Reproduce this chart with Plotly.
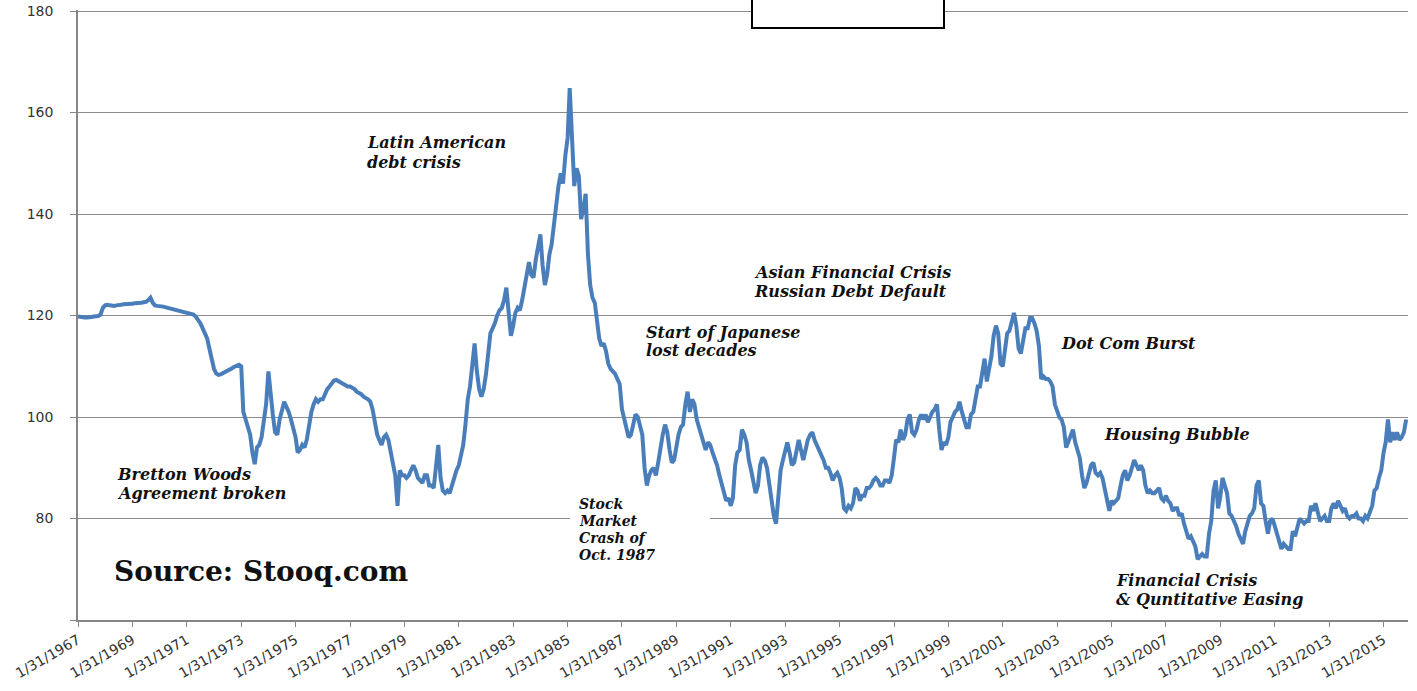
import calendar
import plotly.graph_objects as go

# ---- data: month-end values, Jan 1967 .. Nov 2015 ----
usd_1967_1976 = [
    119.8, 119.7, 119.7, 119.6, 119.6, 119.6, 119.7, 119.8, 119.8, 119.9, 120.2, 121.5,
    122.0, 122.1, 122.0, 121.9, 121.9, 122.0, 122.0, 122.1, 122.2, 122.2, 122.3, 122.3,
    122.3, 122.4, 122.4, 122.4, 122.5, 122.6, 122.7, 123.0, 123.5, 122.5, 122.0, 121.9,
    121.9, 121.8, 121.7, 121.6, 121.5, 121.3, 121.2, 121.0, 120.9, 120.8, 120.7, 120.6,
    120.6, 120.5, 120.4, 120.2, 119.8, 119.3, 118.5, 117.5, 116.5, 115.5, 113.5, 111.5,
    109.5, 108.6, 108.3, 108.4, 108.6, 108.8, 109.0, 109.3, 109.6, 109.9, 110.2, 110.3,
    110.0, 101.0, 99.5, 98.0, 96.5, 93.0, 90.7, 94.0, 94.5, 96.0, 99.0, 102.5,
    109.0, 104.0, 100.5, 97.0, 96.5, 99.5, 101.5, 103.0, 102.0, 101.0, 99.5, 98.0,
    96.0, 93.0, 93.5, 94.5, 94.0, 95.5, 98.5, 101.0, 102.5, 103.5, 103.0, 103.5,
    103.5, 104.5, 105.5, 106.0, 106.5, 107.2, 107.3, 107.0, 106.8, 106.5, 106.3, 106.0,
]
usd_1977_1986 = [
    106.0, 105.8, 105.5, 105.0, 104.8, 104.5, 104.0, 103.8, 103.5, 103.0, 101.5, 99.0,
    96.5, 95.5, 94.5, 96.0, 96.5, 95.5, 93.0, 90.0, 88.5, 82.5, 89.5, 88.5,
    88.5, 88.0, 88.5, 89.5, 90.5, 89.5, 88.0, 87.5, 87.0, 88.5, 88.5, 86.5,
    86.5, 86.0, 90.0, 94.5, 88.0, 85.5, 85.0, 85.5, 85.0, 86.5, 88.5, 89.5,
    90.5, 92.5, 94.5, 98.5, 103.5, 106.0, 110.0, 114.5, 109.0, 105.5, 104.0, 105.5,
    108.5, 112.0, 116.5, 117.5, 118.5, 120.0, 121.0, 121.5, 123.0, 125.5, 120.5, 116.0,
    118.0, 120.5, 121.5, 121.0, 123.0, 125.5, 128.0, 130.5, 128.0, 127.5, 131.0, 133.5,
    136.0, 130.0, 126.0, 128.0, 132.0, 134.0, 138.0, 141.0, 145.5, 148.0, 146.0, 151.5,
    155.0, 164.8, 153.0, 145.5, 149.0, 147.5, 139.0, 141.0, 144.0, 132.0, 126.0, 123.5,
    122.5, 119.0, 115.5, 114.0, 114.5, 113.0, 110.5, 109.5, 109.0, 108.5, 107.5, 106.5,
]
usd_1987_1996 = [
    101.5, 99.5, 98.0, 96.0, 96.5, 98.5, 100.5, 100.0, 98.0, 96.5, 90.0, 86.5,
    88.5, 89.5, 90.0, 88.5, 91.0, 94.0, 96.5, 98.5, 97.0, 93.5, 91.0, 91.5,
    94.5, 96.5, 98.0, 98.5, 102.5, 105.0, 101.0, 103.5, 102.5, 99.5, 98.0, 96.5,
    94.5, 93.5, 95.0, 94.5, 93.0, 92.0, 90.5, 88.5, 87.0, 85.0, 83.5, 84.0,
    82.5, 84.0, 90.5, 93.0, 93.5, 97.5, 96.5, 95.0, 91.5, 89.5, 87.0, 85.0,
    86.5, 90.5, 92.0, 91.5, 90.0, 87.0, 84.5, 80.5, 79.0, 84.5, 89.5, 91.5,
    93.0, 95.0, 93.0, 90.5, 91.0, 93.0, 95.5, 93.5, 91.5, 93.5, 95.5, 96.5,
    97.0, 95.5, 94.5, 93.5, 92.5, 91.5, 90.0, 90.0, 89.0, 87.5, 88.5, 89.0,
    88.0, 86.0, 82.0, 81.5, 82.5, 82.0, 83.0, 86.0, 85.5, 83.5, 84.5, 84.5,
    86.0, 86.0, 86.5, 87.5, 88.0, 87.5, 86.5, 86.5, 87.5, 87.5, 87.0, 88.5,
]
usd_1997_2006 = [
    92.0, 95.5, 95.0, 97.5, 95.5, 96.5, 99.5, 100.5, 97.0, 96.5, 97.5, 99.5,
    100.5, 99.5, 100.5, 99.0, 100.0, 101.0, 101.5, 102.5, 97.5, 93.5, 95.0, 94.5,
    96.0, 99.0, 100.0, 101.0, 101.5, 103.0, 101.0, 99.5, 98.0, 98.0, 100.5, 101.0,
    104.0, 106.0, 106.0, 108.5, 111.5, 107.0, 109.5, 112.0, 116.0, 118.0, 116.5, 110.5,
    110.0, 113.5, 116.5, 117.0, 119.0, 120.5, 118.0, 113.5, 112.5, 115.0, 117.5, 117.5,
    119.5, 119.5, 118.5, 117.0, 114.0, 107.5, 108.0, 107.5, 107.5, 107.0, 106.0, 102.5,
    101.0, 100.0, 99.5, 98.0, 94.0, 95.0, 96.0, 97.5, 95.0, 93.5, 92.0, 88.5,
    86.0, 87.0, 88.5, 90.5, 91.0, 89.0, 88.5, 89.0, 88.0, 85.5, 83.0, 81.5,
    83.5, 83.0, 83.5, 84.0, 86.5, 88.5, 89.5, 87.5, 88.5, 90.0, 91.5, 90.5,
    89.5, 90.5, 89.5, 86.5, 85.0, 85.5, 85.0, 85.0, 85.5, 86.0, 84.0, 83.5,
]
usd_2007_2015 = [
    84.5, 83.5, 83.0, 81.5, 82.0, 82.0, 80.5, 81.0, 79.0, 77.5, 76.0, 76.5,
    75.5, 74.5, 72.0, 72.5, 73.0, 72.5, 72.5, 77.0, 79.5, 85.5, 87.5, 82.0,
    84.5, 88.0, 86.5, 85.0, 81.0, 80.5, 79.5, 78.5, 77.0, 76.0, 75.0, 77.5,
    79.5, 80.5, 81.0, 82.0, 86.5, 87.5, 83.0, 82.5, 79.5, 77.0, 79.5, 80.0,
    78.5, 77.0, 76.0, 74.0, 75.0, 74.5, 74.0, 74.0, 77.5, 76.5, 78.5, 80.0,
    79.5, 79.0, 79.5, 79.5, 82.5, 81.5, 83.0, 81.5, 79.5, 80.0, 80.5, 79.5,
    79.5, 82.0, 83.0, 82.0, 83.5, 82.5, 81.5, 82.0, 80.5, 80.0, 80.5, 80.5,
    81.0, 80.0, 80.0, 79.5, 80.5, 80.0, 81.5, 82.5, 85.5, 86.0, 88.0, 89.5,
    93.0, 95.0, 99.5, 95.0, 97.0, 95.5, 97.0, 95.5, 96.0, 97.0, 99.5,
]

tick_years = list(range(1967, 2016, 2))
tick_dates = [f"{y}-01-31" for y in tick_years]
tick_labels = [f"1/31/{y}" for y in tick_years]
y_ticks = [60, 80, 100, 120, 140, 160, 180]
y_labels = ["", "80", "100", "120", "140", "160", "180"]

values = usd_1967_1976 + usd_1977_1986 + usd_1987_1996 + usd_1997_2006 + usd_2007_2015
dates = []
y, m = 1967, 1
for _ in values:
    d = calendar.monthrange(y, m)[1]
    dates.append(f"{y}-{m:02d}-{d:02d}")
    m += 1
    if m > 12:
        m, y = 1, y + 1

# ---- layout geometry (pixels; page body margin is removed below) ----
W, H = 1417, 691
L, R, T, B = 78, 9, 10, 71
PW, PH = W - L - R, H - T - B


def px(xw):
    return (xw - L) / PW


def py(yw):
    return (H - B - yw) / PH


fig = go.Figure(go.Scatter(x=dates, y=values, mode="lines",
                           line=dict(color="#4A7EBB", width=4),
                           hoverinfo="x+y"))

serif = dict(family="DejaVu Serif", size=16, color="#111111", weight="bold", style="italic")
serif_small = dict(serif, size=14)
notes = [
    ("Latin American", 366, 143, serif), ("debt crisis", 366, 162, serif),
    ("Bretton Woods", 116, 474, serif), ("Agreement broken", 116, 493, serif),
    ("Stock", 578, 504, serif_small), ("Market", 578, 521, serif_small),
    ("Crash of", 578, 538, serif_small), ("Oct. 1987", 578, 555, serif_small),
    ("Start of Japanese", 645, 332, serif), ("lost decades", 645, 351, serif),
    ("Asian Financial Crisis", 753, 272, serif), ("Russian Debt Default", 753, 291, serif),
    ("Dot Com Burst", 1060, 343, serif),
    ("Housing Bubble", 1103, 434, serif),
    ("Financial Crisis", 1115, 580, serif), ("& Quntitative Easing", 1115, 599, serif),
]
annotations = []
for text, x0, yc, fnt in notes:
    annotations.append(dict(text=text, x=px(x0), y=py(yc), xref="paper", yref="paper",
                            xanchor="left", yanchor="middle", showarrow=False,
                            font=fnt, borderpad=0))
annotations.append(dict(text="Source: Stooq.com", x=px(113), y=py(571), xref="paper", yref="paper",
                        xanchor="left", yanchor="middle", showarrow=False, borderpad=0,
                        font=dict(family="DejaVu Serif", size=28, color="#111111", weight="bold")))
# title box (mostly outside the top of the picture)
annotations.append(dict(text="美元指数", x=px(847.5), y=py(29), xref="paper", yref="paper",
                        xanchor="center", yanchor="bottom", showarrow=False,
                        width=188, height=80, bgcolor="white", bordercolor="#000000",
                        borderwidth=2, borderpad=1,
                        font=dict(family="Noto Sans CJK SC", size=22, color="#000000")))

shapes = [dict(type="rect", xref="paper", yref="paper", x0=px(570), x1=px(710),
               y0=py(566), y1=py(497), fillcolor="white", line=dict(width=0), layer="above")]

fig.update_layout(
    width=W, height=H,
    margin=dict(l=L, r=R, t=T, b=B, autoexpand=False),
    paper_bgcolor="white", plot_bgcolor="white",
    showlegend=False,
    annotations=annotations,
    shapes=shapes,
    xaxis=dict(
        type="date", range=["1967-01-31", "2015-12-25"], automargin=False,
        tickmode="array", tickvals=tick_dates, ticktext=tick_labels, tickangle=-30,
        ticks="outside", ticklen=5, tickcolor="#868686", tickwidth=1,
        showline=True, linecolor="#868686", linewidth=1.5,
        showgrid=False, zeroline=False,
        tickfont=dict(family="DejaVu Sans", size=14, color="#333333"),
    ),
    yaxis=dict(
        range=[60, 180.2], tickmode="array", tickvals=y_ticks, ticktext=y_labels,
        automargin=False, ticklabeloverflow="allow",
        ticks="outside", ticklen=6, tickcolor="#868686", tickwidth=1,
        showline=True, linecolor="#868686", linewidth=1.5,
        showgrid=True, gridcolor="#8c8c8c", gridwidth=1, zeroline=False,
        ticklabelstandoff=14,
        tickfont=dict(family="DejaVu Sans", size=14, color="#333333"),
    ),
)

fig.write_html("out.html", post_script="document.body.style.margin='0px';",
               config={"displayModeBar": False})
